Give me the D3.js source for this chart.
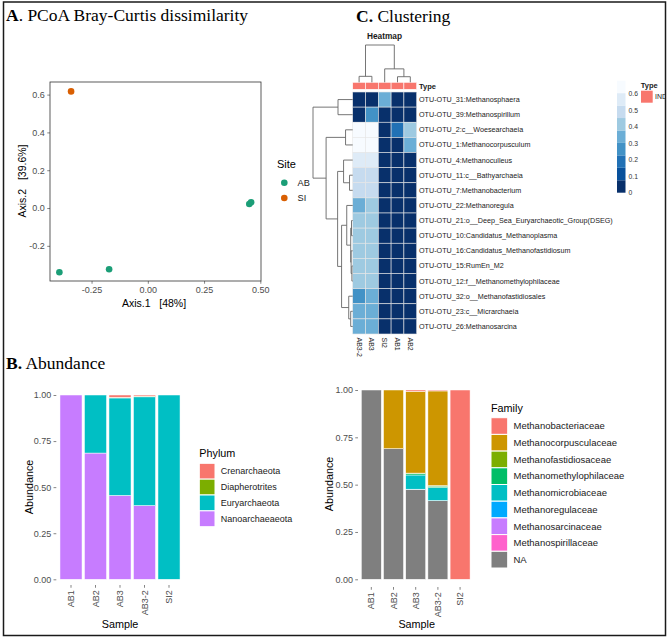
<!DOCTYPE html>
<html><head><meta charset="utf-8">
<script src="https://cdn.jsdelivr.net/npm/d3@7"></script>
<style>
body{margin:0;background:#fff}
text{font-family:"Liberation Sans",Arial,sans-serif}
</style>
</head><body><svg id="c" width="669" height="639"></svg>
<script>
// ---------------- DATA ----------------
// Panel A: PCoA
const pcoaSite  = ["AB", "AB", "AB", "AB", "SI"];
const pcoaAxis1 = [-0.393, -0.172, 0.451, 0.459, -0.341];
const pcoaAxis2 = [-0.340, -0.324, 0.021, 0.030, 0.617];
const pcoaXTicks = [-0.25, 0, 0.25, 0.5];
const pcoaYTicks = [-0.2, 0, 0.2, 0.4, 0.6];
const siteLevels = ["AB", "SI"];
const siteColors = ["#1B9E77", "#D95F02"];

// Panel B: abundance
const samples = ["AB1", "AB2", "AB3", "AB3-2", "SI2"];
const abundanceTicks = [0, 0.25, 0.5, 0.75, 1];
const phyla = ["Crenarchaeota", "Diapherotrites", "Euryarchaeota", "Nanoarchaeaeota"];
const phylumColors = ["#F8766D", "#7CAE00", "#00BFC4", "#C77CFF"];
const crenarchaeota   = [0, 0, 0.012, 0.006, 0];
const diapherotrites  = [0, 0, 0.004, 0.004, 0];
const euryarchaeota   = [0, 0.315, 0.529, 0.590, 1.0];
const nanoarchaeaeota = [1.0, 0.685, 0.455, 0.400, 0];

const families = ["Methanobacteriaceae", "Methanocorpusculaceae", "Methanofastidiosaceae",
  "Methanomethylophilaceae", "Methanomicrobiaceae", "Methanoregulaceae",
  "Methanosarcinaceae", "Methanospirillaceae", "NA"];
const familyColors = ["#F8766D", "#CD9600", "#7CAE00", "#00BE67", "#00BFC4", "#00A9FF", "#C77CFF", "#FF61CC", "#7F7F7F"];
const methanobacteriaceae     = [0, 0, 0.007, 0.005, 1.0];
const methanocorpusculaceae   = [0, 0.31, 0.432, 0.500, 0];
const methanofastidiosaceae   = [0, 0, 0.002, 0.003, 0];
const methanomethylophilaceae = [0, 0, 0.008, 0.008, 0];
const methanomicrobiaceae     = [0, 0, 0.075, 0.068, 0];
const methanoregulaceae       = [0, 0, 0.001, 0.001, 0];
const methanosarcinaceae      = [0, 0, 0, 0, 0];
const methanospirillaceae     = [0, 0, 0, 0, 0];
const familyNA                = [1.0, 0.69, 0.475, 0.415, 0];

// Panel C: heatmap
const hmRows = ["OTU-OTU_31:Methanosphaera", "OTU-OTU_39:Methanospirillum", "OTU-OTU_2:c__Woesearchaeia",
  "OTU-OTU_1:Methanocorpusculum", "OTU-OTU_4:Methanoculleus", "OTU-OTU_11:c__Bathyarchaeia",
  "OTU-OTU_7:Methanobacterium", "OTU-OTU_22:Methanoregula", "OTU-OTU_21:o__Deep_Sea_Euryarchaeotic_Group(DSEG)",
  "OTU-OTU_10:Candidatus_Methanoplasma", "OTU-OTU_16:Candidatus_Methanofastidiosum", "OTU-OTU_15:RumEn_M2",
  "OTU-OTU_12:f__Methanomethylophilaceae", "OTU-OTU_32:o__Methanofastidiosales", "OTU-OTU_23:c__Micrarchaeia",
  "OTU-OTU_26:Methanosarcina"];
const hmCols = ["AB3-2", "AB3", "SI2", "AB1", "AB2"];
const hmAB3_2 = [0, 0, 0.65, 0.65, 0.56, 0.50, 0.50, 0.34, 0.41, 0.41, 0.41, 0.41, 0.41, 0.27, 0.33, 0.33];
const hmAB3   = [0, 0.27, 0.65, 0.65, 0.56, 0.50, 0.50, 0.41, 0.41, 0.41, 0.41, 0.41, 0.41, 0.34, 0.36, 0.36];
const hmSI2   = [0.34, 0, 0, 0, 0, 0, 0, 0, 0, 0, 0, 0, 0, 0, 0, 0];
const hmAB1   = [0, 0, 0.19, 0, 0, 0, 0, 0, 0, 0, 0, 0, 0, 0, 0, 0];
const hmAB2   = [0, 0, 0.41, 0.34, 0, 0, 0, 0, 0, 0, 0, 0, 0, 0, 0, 0];
const hmLegendTicks = [0, 0.1, 0.2, 0.3, 0.4, 0.5, 0.6];
const hmMax = 0.68;
// dendrograms: [mergeHeight, left, right]; leaves are indices
const rowTree = [1.0, [0.37, 0, 1],
  [0.67, [0.18, 2, 3],
    [0.38, [0.23, 4, [0.08, 5, 6]],
      [0.28, [0.15, 7, [0.05, [0.03, 8, 9], [0.04, 10, [0.02, 11, 12]]]],
        [0.10, 13, [0.05, 14, 15]]]]]];
const colTree = [1.0, [0.16, 0, 1], [0.36, 2, [0.15, 3, 4]]];

// ---------------- DRAW ----------------
const svg = d3.select("#c");
svg.append("rect").attr("width", 669).attr("height", 639).attr("fill", "#fff");
const SERIF = "'Liberation Serif','Times New Roman',serif";

function panelTitle(x, y, bold, rest) {
  const t = svg.append("text").attr("x", x).attr("y", y)
    .style("font-family", SERIF).style("font-size", "17.5px").attr("fill", "#000");
  t.append("tspan").attr("font-weight", "bold").text(bold);
  t.append("tspan").text(rest);
}
function styleAxis(g, size) {
  g.select(".domain").remove();
  g.selectAll(".tick line").attr("stroke", "#333").attr("stroke-width", 0.6);
  g.selectAll(".tick text").attr("fill", "#4D4D4D").style("font-size", size + "px")
    .style("font-family", "'Liberation Sans',Arial,sans-serif");
}

// ---- Panel A ----
panelTitle(6, 20.7, "A", ". PCoA Bray-Curtis dissimilarity");
const xA = d3.scaleLinear().domain([-0.4347, 0.503]).range([50, 261]);
const yA = d3.scaleLinear().domain([-0.386, 0.6667]).range([281, 82]);
svg.append("rect").attr("x", 50).attr("y", 82).attr("width", 211).attr("height", 199)
  .attr("fill", "none").attr("stroke", "#333").attr("stroke-width", 0.8);
const gAx = svg.append("g").attr("transform", "translate(0,281)")
  .call(d3.axisBottom(xA).tickValues(pcoaXTicks).tickFormat(d => d.toFixed(2)).tickSize(2.75).tickPadding(2.5));
styleAxis(gAx, 9);
const gAy = svg.append("g").attr("transform", "translate(50,0)")
  .call(d3.axisLeft(yA).tickValues(pcoaYTicks).tickFormat(d => d.toFixed(1)).tickSize(2.75).tickPadding(2.5));
styleAxis(gAy, 9);
const siteColor = d3.scaleOrdinal().domain(siteLevels).range(siteColors);
svg.append("g").selectAll("circle").data(pcoaAxis1).join("circle")
  .attr("cx", (d, i) => xA(d)).attr("cy", (d, i) => yA(pcoaAxis2[i]))
  .attr("r", 3.3).attr("fill", (d, i) => siteColor(pcoaSite[i]));
svg.append("text").attr("x", 154).attr("y", 307).attr("text-anchor", "middle")
  .style("font-size", "10.5px").style("white-space", "pre").attr("xml:space", "preserve").text("Axis.1   [48%]");
svg.append("text").attr("transform", "translate(25.5,181) rotate(-90)").attr("text-anchor", "middle")
  .style("font-size", "10.5px").style("white-space", "pre").attr("xml:space", "preserve").text("Axis.2   [39.6%]");
svg.append("text").attr("x", 277).attr("y", 168.3).style("font-size", "11px").text("Site");
siteLevels.forEach((s, i) => {
  const cy = 182.7 + i * 15.3;
  svg.append("circle").attr("cx", 284.3).attr("cy", cy).attr("r", 3.3).attr("fill", siteColor(s));
  svg.append("text").attr("x", 297.5).attr("y", cy + 3.3).style("font-size", "9.2px").attr("fill", "#1a1a1a").text(s);
});

// ---- Panel B ----
panelTitle(6, 369, "B.", " Abundance");

function stackedBars(opts) {
  const {keys, colors, series, x0, x1, y0, y1, axisY, legendTitle, legendX, legendTitleY, keyTop, keyH, keyW, labelSize, ylabX, ylabY, sampleX} = opts;
  const table = samples.map((s, i) => {
    const o = {sample: s};
    keys.forEach((k, j) => o[k] = series[j][i]);
    return o;
  });
  // ggplot stacks first level on top
  const stack = d3.stack().keys(keys.slice().reverse())(table);
  const col = d3.scaleOrdinal().domain(keys).range(colors);
  const x = d3.scaleBand().domain(samples).range([x0, x1]).paddingInner(0.1).paddingOuter(0.15);
  const y = d3.scaleLinear().domain([0, 1]).range([y0, y1]);
  const g = svg.append("g");
  stack.forEach(layer => {
    g.append("g").selectAll("rect").data(layer).join("rect")
      .attr("x", d => x(d.data.sample)).attr("width", x.bandwidth())
      .attr("y", d => y(d[1])).attr("height", d => Math.max(0, y(d[0]) - y(d[1])))
      .attr("fill", col(layer.key)).attr("stroke", "#fff").attr("stroke-width", 0.5)
      .attr("display", d => (d[1] - d[0]) > 0 ? null : "none");
  });
  const gy = svg.append("g").attr("transform", `translate(${x0},0)`)
    .call(d3.axisLeft(y).tickValues(abundanceTicks).tickFormat(d => d.toFixed(2)).tickSize(2.75).tickPadding(2.2));
  styleAxis(gy, 9);
  const gx = svg.append("g").attr("transform", `translate(0,${axisY})`)
    .call(d3.axisBottom(x).tickSize(2.75));
  styleAxis(gx, 9);
  gx.selectAll(".tick text").attr("transform", "rotate(-90)").attr("text-anchor", "end")
    .attr("x", -5.2).attr("y", 0).attr("dy", "0.35em");
  svg.append("text").attr("transform", `translate(${ylabX},${ylabY}) rotate(-90)`).attr("text-anchor", "middle")
    .style("font-size", "10.8px").attr("fill", "#000").text("Abundance");
  svg.append("text").attr("x", sampleX).attr("y", 627.5).attr("text-anchor", "middle")
    .style("font-size", "10.8px").attr("fill", "#000").text("Sample");
  // legend
  svg.append("text").attr("x", legendX).attr("y", legendTitleY).style("font-size", "10.8px").text(legendTitle);
  keys.forEach((k, i) => {
    const ky = keyTop + i * keyH;
    svg.append("rect").attr("x", legendX).attr("y", ky).attr("width", keyW).attr("height", keyH)
      .attr("fill", col(k)).attr("stroke", "#fff").attr("stroke-width", 1);
    svg.append("text").attr("x", legendX + keyW + 5.8).attr("y", ky + keyH / 2).attr("dy", "0.35em")
      .style("font-size", labelSize + "px").attr("fill", "#1a1a1a").text(k);
  });
}

stackedBars({keys: phyla, colors: phylumColors,
  series: [crenarchaeota, diapherotrites, euryarchaeota, nanoarchaeaeota],
  x0: 56.3, x1: 183.7, y0: 579.3, y1: 395, axisY: 585,
  legendTitle: "Phylum", legendX: 199.3, legendTitleY: 457, keyTop: 463.3, keyH: 15.85, keyW: 15.7, labelSize: 9,
  ylabX: 32.5, ylabY: 487, sampleX: 120});

stackedBars({keys: families, colors: familyColors,
  series: [methanobacteriaceae, methanocorpusculaceae, methanofastidiosaceae, methanomethylophilaceae,
    methanomicrobiaceae, methanoregulaceae, methanosarcinaceae, methanospirillaceae, familyNA],
  x0: 358, x1: 473.4, y0: 579.3, y1: 390, axisY: 587,
  legendTitle: "Family", legendX: 491, legendTitleY: 411.5, keyTop: 417.7, keyH: 16.7, keyW: 16.7, labelSize: 9.5,
  ylabX: 332.5, ylabY: 484, sampleX: 416.7});

// ---- Panel C ----
panelTitle(356, 22.3, "C.", " Clustering");
const xH = d3.scaleBand().domain(hmCols).range([352.7, 416.7]);
const yH = d3.scaleBand().domain(hmRows).range([92, 334]);
const hmColor = d3.scaleQuantize().domain([0, hmMax]).range(d3.schemeBlues[9].slice().reverse());
const hmValues = [hmAB3_2, hmAB3, hmSI2, hmAB1, hmAB2];
const gH = svg.append("g");
hmCols.forEach((c, j) => {
  gH.append("g").selectAll("rect").data(hmValues[j]).join("rect")
    .attr("x", xH(c)).attr("y", (d, i) => yH(hmRows[i]))
    .attr("width", xH.bandwidth()).attr("height", yH.bandwidth())
    .attr("fill", d => hmColor(d)).attr("stroke", "#e6e6e6").attr("stroke-width", 0.6);
});
// annotation bar
gH.append("g").selectAll("rect").data(hmCols).join("rect")
  .attr("x", d => xH(d)).attr("y", 82.3).attr("width", xH.bandwidth()).attr("height", 7)
  .attr("fill", "#F8766D").attr("stroke", "#fff").attr("stroke-width", 0.6);
svg.append("text").attr("x", 419).attr("y", 88.8).style("font-size", "7.5px").attr("font-weight", "bold")
  .attr("fill", "#1a1a1a").text("Type");
// row labels
svg.append("g").selectAll("text").data(hmRows).join("text")
  .attr("x", 419).attr("y", d => yH(d) + yH.bandwidth() / 2).attr("dy", "0.35em")
  .style("font-size", "7.2px").attr("fill", "#1a1a1a").text(d => d);
// column labels
svg.append("g").selectAll("text").data(hmCols).join("text")
  .attr("transform", d => `translate(${xH(d) + xH.bandwidth() / 2 - 2.5},337.5) rotate(90)`)
  .style("font-size", "7px").attr("fill", "#1a1a1a").text(d => d);
svg.append("text").attr("x", 384.5).attr("y", 39).attr("text-anchor", "middle")
  .style("font-size", "8.3px").attr("font-weight", "bold").attr("fill", "#1a1a1a").text("Heatmap");

// dendrograms
const gD = svg.append("g").attr("stroke", "#666").attr("stroke-width", 0.9).attr("fill", "none");
const rowH = d3.scaleLinear().domain([0, 1]).range([352.7, 313]);
const colH = d3.scaleLinear().domain([0, 1]).range([82.3, 45]);
function drawTree(node, posOf, hScale, horizontal) {
  if (typeof node === "number") return {p: posOf(node), h: 0};
  const [h, a, b] = node;
  const A = drawTree(a, posOf, hScale, horizontal), B = drawTree(b, posOf, hScale, horizontal);
  const H = hScale(h);
  const seg = (x1, y1, x2, y2) => horizontal
    ? gD.append("line").attr("x1", x1).attr("y1", y1).attr("x2", x2).attr("y2", y2)
    : gD.append("line").attr("x1", y1).attr("y1", x1).attr("x2", y2).attr("y2", x2);
  seg(hScale(A.h), A.p, H, A.p);
  seg(hScale(B.h), B.p, H, B.p);
  seg(H, A.p, H, B.p);
  return {p: (A.p + B.p) / 2, h};
}
drawTree(rowTree, i => yH(hmRows[i]) + yH.bandwidth() / 2, rowH, true);
drawTree(colTree, j => xH(hmCols[j]) + xH.bandwidth() / 2, colH, false);

// color legend
const legY = d3.scaleLinear().domain([0, hmMax]).range([192.7, 80.7]);
const bands = hmColor.range().map((c, i) => ({c, lo: hmColor.invertExtent(c)[0], hi: hmColor.invertExtent(c)[1]}));
svg.append("g").selectAll("rect").data(bands).join("rect")
  .attr("x", 617).attr("width", 8.5).attr("y", d => legY(d.hi)).attr("height", d => legY(d.lo) - legY(d.hi))
  .attr("fill", d => d.c);
svg.append("g").selectAll("text").data(hmLegendTicks).join("text")
  .attr("x", 628.5).attr("y", d => legY(d)).attr("dy", "0.35em")
  .style("font-size", "6.8px").attr("fill", "#333").text(d => d === 0 ? "0" : d.toFixed(1));
svg.append("text").attr("x", 640.7).attr("y", 88).style("font-size", "7.5px").attr("font-weight", "bold")
  .attr("fill", "#1a1a1a").text("Type");
svg.append("rect").attr("x", 641).attr("y", 90.7).attr("width", 11.7).attr("height", 12).attr("fill", "#F8766D");
svg.append("defs").append("clipPath").attr("id", "clipR").append("rect").attr("x", 0).attr("y", 0).attr("width", 665).attr("height", 639);
svg.append("text").attr("clip-path", "url(#clipR)").attr("x", 655).attr("y", 99.3)
  .style("font-size", "7px").attr("fill", "#1a1a1a").text("IND");

// outer frame
svg.append("rect").attr("x", 3.5).attr("y", 2).attr("width", 662).attr("height", 633.5)
  .attr("fill", "none").attr("stroke", "#1a1a1a").attr("stroke-width", 1.5);
</script></body></html>
